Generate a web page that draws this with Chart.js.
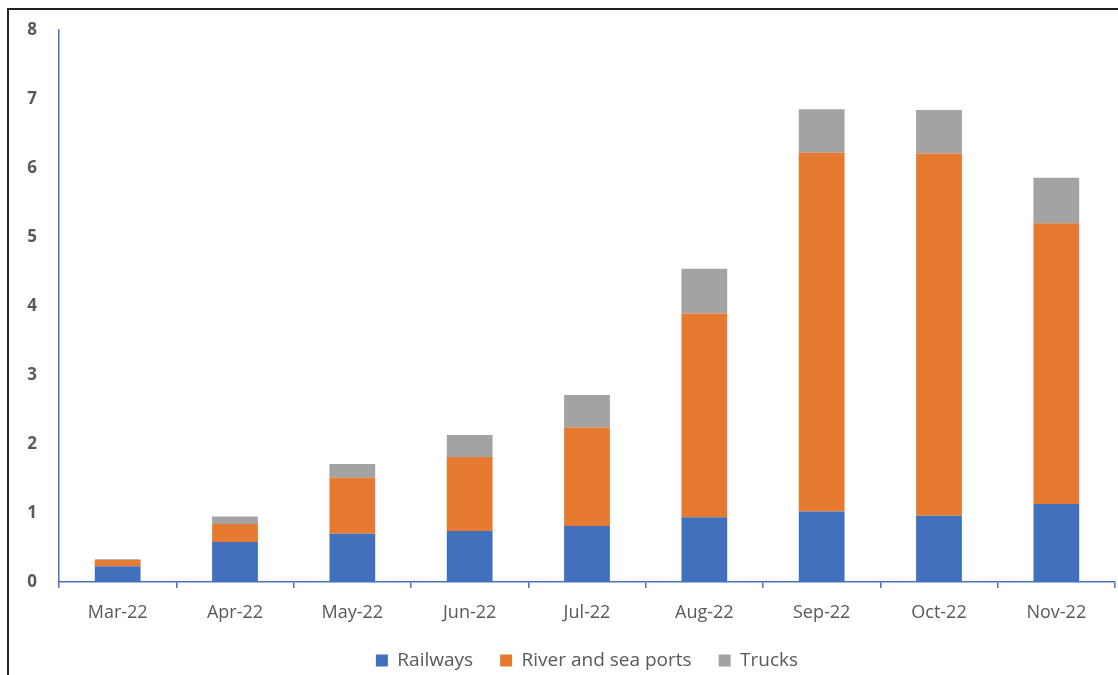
<!DOCTYPE html>
<html>
<head>
<meta charset="utf-8">
<script src="https://cdn.jsdelivr.net/npm/chart.js@4.4.1/dist/chart.umd.min.js"></script>
<style>
  html, body { margin: 0; padding: 0; background: #fff; }
  #wrap { position: relative; width: 1118px; height: 675px; overflow: hidden; }
  #frame { position: absolute; left: 7px; top: 8px; width: 1200px; height: 800px;
           border-top: 2px solid #222; border-left: 2px solid #222; box-sizing: border-box; pointer-events: none; }
  canvas { position: absolute; left: 0; top: 0; }
</style>
</head>
<body>
<div id="wrap">
  <canvas id="c" width="1118" height="675"></canvas>
  <div id="frame"></div>
</div>
<script>
// Monthly volumes by transport mode
const months = ['Mar-22', 'Apr-22', 'May-22', 'Jun-22', 'Jul-22', 'Aug-22', 'Sep-22', 'Oct-22', 'Nov-22'];
const railways = [0.23, 0.58, 0.70, 0.74, 0.81, 0.94, 1.02, 0.96, 1.13];
const riverSeaPorts = [0.09, 0.26, 0.81, 1.07, 1.43, 2.95, 5.20, 5.25, 4.07];
const trucks = [0.01, 0.11, 0.20, 0.32, 0.47, 0.65, 0.63, 0.63, 0.66];
const yTicks = [0, 1, 2, 3, 4, 5, 6, 7, 8];

const axisBlue = '#4a72c0';
const textGrey = '#595959';

new Chart(document.getElementById('c'), {
  type: 'bar',
  data: {
    labels: months,
    datasets: [
      { label: 'Railways', data: railways, backgroundColor: '#4170bd' },
      { label: 'River and sea ports', data: riverSeaPorts, backgroundColor: '#e67a31' },
      { label: 'Trucks', data: trucks, backgroundColor: '#a3a3a3' }
    ]
  },
  options: {
    responsive: false,
    animation: false,
    events: [],
    layout: { padding: { left: 0, right: 3, top: 30, bottom: -5 } },
    datasets: { bar: { categoryPercentage: 1, barPercentage: 0.39 } },
    scales: {
      x: {
        stacked: true,
        offset: true,
        grid: { display: true, drawOnChartArea: false, offset: true, color: axisBlue, tickLength: 6, lineWidth: 1.5 },
        border: { display: true, color: axisBlue, width: 1.5 },
        ticks: { color: textGrey, font: { family: 'Open Sans', size: 18 }, padding: 14, maxRotation: 0 },
        afterFit: (s) => { s.height = 42; }
      },
      y: {
        stacked: true,
        min: 0,
        max: 8,
        afterBuildTicks: (s) => { s.ticks = yTicks.map(v => ({ value: v })); },
        grid: { display: false },
        border: { display: true, color: axisBlue, width: 1.5 },
        ticks: { color: textGrey, font: { family: 'Open Sans', size: 17, weight: 'bold' }, padding: 14 },
        afterFit: (s) => { s.width = 59; }
      }
    },
    plugins: {
      tooltip: { enabled: false },
      legend: {
        position: 'bottom',
        fullSize: false,
        labels: {
          color: textGrey,
          font: { family: 'Open Sans', size: 19 },
          boxWidth: 12,
          boxHeight: 12,
          padding: 27
        }
      }
    }
  }
});
</script>
</body>
</html>
